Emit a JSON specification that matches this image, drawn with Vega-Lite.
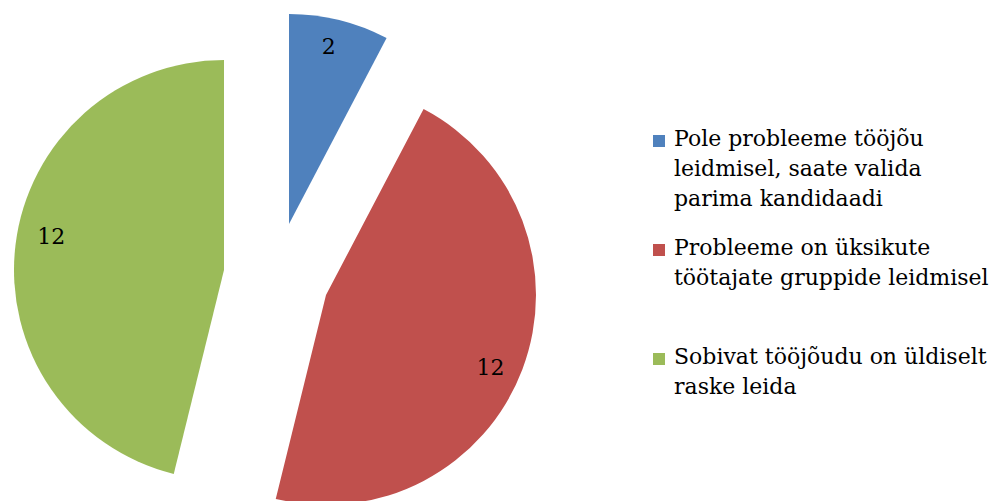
{
  "$schema": "https://vega.github.io/schema/vega-lite/v6.json",
  "width": 552,
  "height": 501,
  "padding": 0,
  "background": "white",
  "config": {"view": {"stroke": null}, "style": {"guide-label": {"lineHeight": 30, "dy": -12}}},
  "data": {
    "values": [
      {"category": "Pole probleeme tööjõu\nleidmisel, saate valida\nparima kandidaadi", "value": 2, "rank": 1},
      {"category": "Probleeme on üksikute\ntöötajate gruppide leidmisel\n", "value": 12, "rank": 2},
      {"category": "Sobivat tööjõudu on üldiselt\nraske leida", "value": 12, "rank": 3}
    ]
  },
  "encoding": {
    "theta": {"field": "value", "type": "quantitative", "stack": true},
    "order": {"field": "rank", "type": "quantitative"},
    "color": {
      "field": "category",
      "type": "nominal",
      "sort": null,
      "scale": {"range": ["#4F81BD", "#C0504D", "#9BBB59"]},
      "legend": {
        "title": null,
        "orient": "none",
        "legendX": 648,
        "legendY": 130,
        "symbolType": "square",
        "symbolSize": 144,
        "symbolStrokeWidth": 0,
        "labelFont": "DejaVu Serif",
        "labelFontSize": 22,
        "labelColor": "black",
        "labelOffset": 4,
        "labelLimit": 400,
        "labelBaseline": "top",
        "labelExpr": "split(datum.label, '\\n')",
        "rowPadding": 27
      }
    }
  },
  "layer": [
    {
      "mark": {"type": "arc", "outerRadius": 210, "xOffset": 13, "yOffset": -26.5},
      "encoding": {"opacity": {"condition": {"test": "datum.rank == 1", "value": 1}, "value": 0}}
    },
    {
      "mark": {"type": "arc", "outerRadius": 210, "xOffset": 50, "yOffset": 44.5},
      "encoding": {"opacity": {"condition": {"test": "datum.rank == 2", "value": 1}, "value": 0}}
    },
    {
      "mark": {"type": "arc", "outerRadius": 210, "xOffset": -52, "yOffset": 19.5},
      "encoding": {"opacity": {"condition": {"test": "datum.rank == 3", "value": 1}, "value": 0}}
    },
    {
      "mark": {"type": "text", "radius": 181, "thetaOffset": -0.02, "xOffset": 13, "yOffset": -26.5, "font": "DejaVu Serif", "fontSize": 22, "color": "black"},
      "encoding": {"text": {"field": "value"}, "color": {"value": "black"}, "opacity": {"condition": {"test": "datum.rank == 1", "value": 1}, "value": 0}}
    },
    {
      "mark": {"type": "text", "radius": 180, "thetaOffset": 0.056, "xOffset": 50, "yOffset": 44.5, "font": "DejaVu Serif", "fontSize": 22, "color": "black"},
      "encoding": {"text": {"field": "value"}, "color": {"value": "black"}, "opacity": {"condition": {"test": "datum.rank == 2", "value": 1}, "value": 0}}
    },
    {
      "mark": {"type": "text", "radius": 176, "thetaOffset": 0.07, "xOffset": -52, "yOffset": 19.5, "font": "DejaVu Serif", "fontSize": 22, "color": "black"},
      "encoding": {"text": {"field": "value"}, "color": {"value": "black"}, "opacity": {"condition": {"test": "datum.rank == 3", "value": 1}, "value": 0}}
    }
  ]
}
